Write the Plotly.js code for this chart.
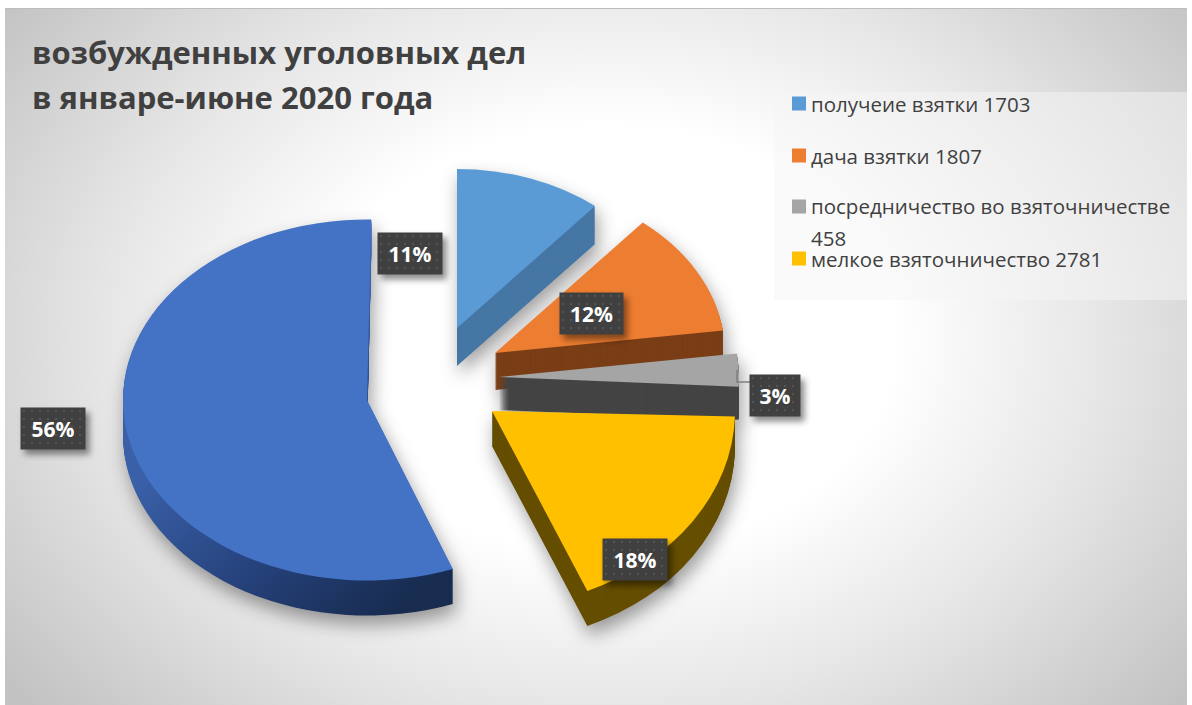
<!DOCTYPE html>
<html><head><meta charset="utf-8">
<script src="https://cdn.plot.ly/plotly-3.0.1.min.js"></script>
<style>
html,body{margin:0;padding:0;background:#fff;overflow:hidden}
#frame{position:absolute;left:5px;top:8px;width:1182px;height:697px;border-top:1px solid #bdbdbd;box-sizing:border-box;
background:radial-gradient(ellipse 760px 560px at 600px 330px,#fff 0%,#fff 38%,#e6e6e6 66%,#c2c2c2 100%)}
#plot{position:absolute;left:0;top:0;width:1192px;height:705px}
.pielayer{filter:drop-shadow(3px 9px 9px rgba(0,0,0,.38))}
.annotation rect.bg{filter:drop-shadow(4px 5px 3px rgba(0,0,0,.45))}
</style></head><body>
<svg width="0" height="0" style="position:absolute"><defs>
<linearGradient id="blueSide" gradientUnits="userSpaceOnUse" x1="125" y1="500" x2="360" y2="700">
<stop offset="0" stop-color="#3a60a8"/><stop offset="0.55" stop-color="#25417a"/><stop offset="1" stop-color="#182c50"/>
</linearGradient>
<pattern id="dots" patternUnits="userSpaceOnUse" width="8" height="8">
<rect width="8" height="8" fill="#404040"/><circle cx="4" cy="4" r="1" fill="#5c5c5c"/>
</pattern></defs></svg>
<div id="frame"></div><div id="plot"></div>
<script>
const categories=['получеие взятки','дача взятки','посредничество во взяточничестве','мелкое взяточничество','прочее'];
const values=[1703,1807,458,2781,8590];
const topColors=['#5B9BD5','#ED7D31','#A5A5A5','#FFC000','#4472C4'];
const sideColors=['#4677A4','#7A3E17','#444444','#654E00','#25417a'];
const titleLines=['возбужденных уголовных дел','в январе-июне 2020 года'];

// per-slice placement in page pixels: the pie centre after the pull, radius, tilt, depth
const sliceCx=[457,495,499,492,367];
const sliceCy=[328,353,377,411,400];
const sliceR=[215,230,240,243,244];
const sliceTilt=[.74,.74,.74,.805,.74];
const sliceDepth=[38,37,33,35,35];
const sliceRotation=[0,0,0,-1.5,1];
const drawOrder=[4,0,1,2,3];
const labelX=[410,591.5,775,635,53];
const labelY=[253.5,313.5,395,559,428.5];
const labelW=[64,63,50,64,64];
const legendTextY=[103.5,155.5,206.5,258.5];
const legendExtraY=[237.5];

const W=1192,H=705,Y0=470;
const total=values.reduce((a,b)=>a+b,0);
const traces=[];const meta=[];
drawOrder.forEach(i=>{
  for(let d=sliceDepth[i];d>=0;d--){
    const k=sliceTilt[i],R=sliceR[i];
    const yp=Y0+(sliceCy[i]+d-Y0)/k;
    traces.push({type:'pie',labels:categories,values:values,sort:false,direction:'clockwise',rotation:sliceRotation[i],
      textinfo:'none',hoverinfo:'skip',showlegend:false,
      domain:{x:[(sliceCx[i]-R)/W,(sliceCx[i]+R)/W],y:[1-(yp+R)/H,1-(yp-R)/H]},
      marker:{colors:values.map((v,j)=>j===i?(d===0?topColors[i]:sideColors[i]):'rgba(0,0,0,0)'),line:{width:0}}});
    meta.push({k:k,i:i,d:d});
  }
});
const legendFont={family:'"Open Sans",sans-serif',size:20.5,color:'#404040'};
const annotations=[];const shapes=[
 {type:'rect',xref:'paper',yref:'paper',x0:774/W,x1:1187/W,y0:1-300/H,y1:1-92/H,line:{width:0},fillcolor:'rgba(245,245,245,.5)',layer:'below'},
 {type:'path',xref:'paper',yref:'paper',path:`M ${737/W} ${1-370/H} L ${737/W} ${1-382/H} L ${750/W} ${1-382/H}`,line:{color:'#7f7f7f',width:1.5}}
];
values.forEach((v,i)=>{
  annotations.push({xref:'paper',yref:'paper',x:labelX[i]/W,y:1-labelY[i]/H,xanchor:'center',yanchor:'middle',showarrow:false,
    text:'<b>'+Math.round(v/total*100)+'%</b>',width:labelW[i],height:41,bgcolor:'#404040',borderpad:0,
    font:{family:'"Open Sans",sans-serif',size:21,color:'#fff'}});
});
categories.slice(0,4).forEach((c,i)=>{
  const y=legendTextY[i];
  annotations.push({xref:'paper',yref:'paper',x:808.5/W,y:1-y/H,xanchor:'left',yanchor:'middle',showarrow:false,text:c+(i===2?'':' '+values[i]),font:legendFont});
  shapes.push({type:'rect',xref:'paper',yref:'paper',x0:792/W,x1:806/W,y0:1-(y+7)/H,y1:1-(y-7)/H,line:{width:0},fillcolor:topColors[i]});
});
annotations.push({xref:'paper',yref:'paper',x:808.5/W,y:1-legendExtraY[0]/H,xanchor:'left',yanchor:'middle',showarrow:false,text:String(values[2]),font:legendFont});

const layout={width:W,height:H,margin:{l:0,r:0,t:0,b:0},paper_bgcolor:'rgba(0,0,0,0)',plot_bgcolor:'rgba(0,0,0,0)',showlegend:false,
  title:{text:titleLines.map(t=>'<span style="font-size:31px"><b>'+t+'</b></span>').join('<br>'),x:32/W,xanchor:'left',xref:'container',y:1-64/H,yanchor:'top',yref:'container',
    font:{family:'"Open Sans",sans-serif',size:34.5,color:'#404040'}},
  annotations:annotations,shapes:shapes};
Plotly.newPlot('plot',traces,layout,{displayModeBar:false,staticPlot:true}).then(gd=>{
  gd.querySelectorAll('.pielayer > .trace').forEach((g,n)=>{
    const m=meta[n];
    g.style.transformOrigin='0 '+Y0+'px';
    g.style.transform='scaleY('+m.k+')';
    if(m.i===4&&m.d>0){g.querySelectorAll('path').forEach((p,j)=>{if(j===4)p.style.fill='url(#blueSide)';});}
  });
  gd.querySelectorAll('.annotation').forEach((a,n)=>{
    if(n<values.length){const r=a.querySelector('rect.bg');if(r)r.style.fill='url(#dots)';}
  });
});
</script></body></html>
